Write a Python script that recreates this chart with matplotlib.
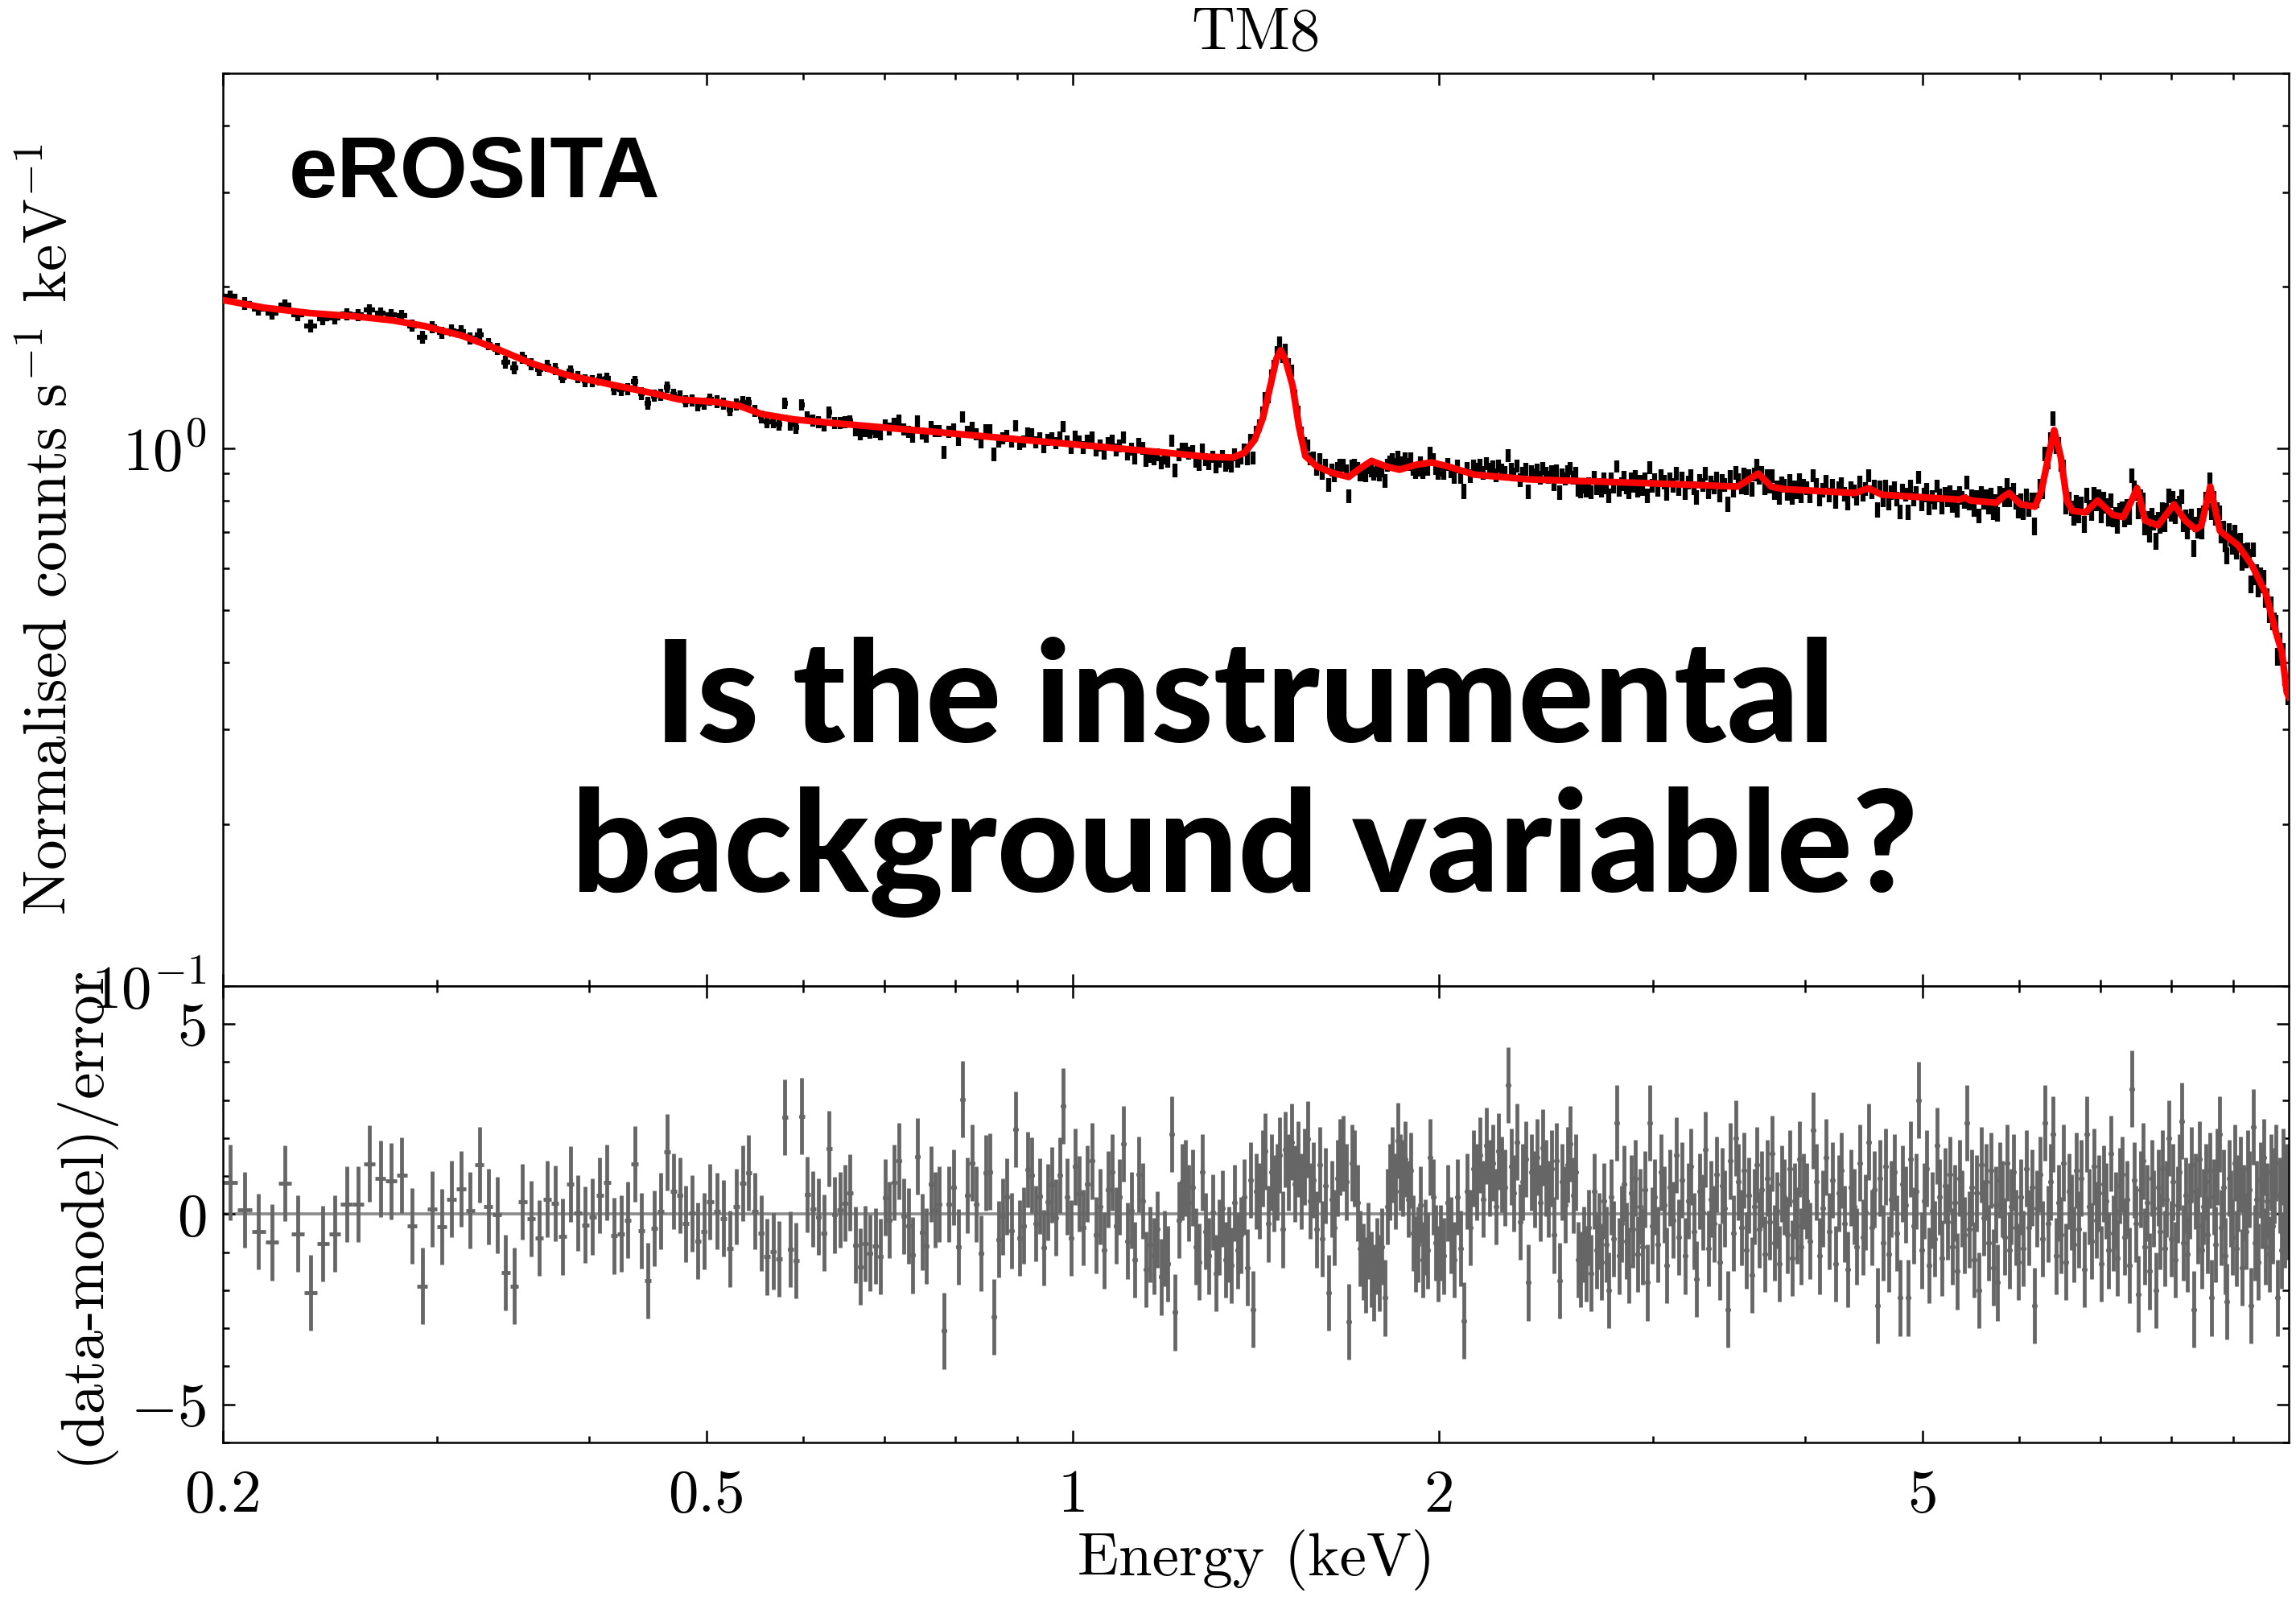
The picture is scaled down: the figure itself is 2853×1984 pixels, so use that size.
import numpy as np
import matplotlib
matplotlib.use("Agg")
import matplotlib.pyplot as plt
from matplotlib.ticker import FixedLocator, FixedFormatter, MultipleLocator, NullFormatter

plt.rcParams['font.family'] = 'serif'
plt.rcParams['font.serif'] = ['cmr10']
plt.rcParams['mathtext.fontset'] = 'cm'
plt.rcParams['axes.formatter.use_mathtext'] = True

# best-fit background model (energy in keV, normalised counts s^-1 keV^-1)
model_e = [0.2, 0.2021, 0.2158, 0.2358, 0.2571, 0.2758, 0.2932, 0.3145, 0.3342, 0.3584,
           0.3843, 0.416, 0.4538, 0.4743, 0.5087, 0.5318, 0.5548, 0.5906, 0.6443, 0.7026,
           0.7792, 1.194, 1.288, 1.354, 1.384, 1.411, 1.433, 1.455, 1.47, 1.482,
           1.495, 1.516, 1.534, 1.553, 1.587, 1.636, 1.686, 1.72, 1.76, 1.809,
           1.856, 1.914, 1.973, 2.034, 2.138, 2.368, 2.556, 3.0, 3.52, 3.662,
           3.752, 3.844, 4.396, 4.51, 4.628, 5.358, 5.415, 5.47, 5.746, 5.826,
           5.888, 6.016, 6.183, 6.259, 6.344, 6.412, 6.49, 6.57, 6.641, 6.803,
           6.961, 7.166, 7.309, 7.399, 7.502, 7.617, 7.805, 8.045, 8.219, 8.383,
           8.473, 8.617, 8.776, 8.91, 9.088, 9.328, 9.572, 9.764, 9.869, 9.96, 10.0]
model_v = [1.89, 1.883, 1.831, 1.788, 1.763, 1.733, 1.691, 1.623, 1.541, 1.443,
           1.37, 1.318, 1.265, 1.235, 1.222, 1.201, 1.16, 1.133, 1.113, 1.094,
           1.072, 0.983, 0.966, 0.963, 0.983, 1.039, 1.14, 1.323, 1.468, 1.525,
           1.468, 1.31, 1.102, 0.969, 0.927, 0.901, 0.886, 0.917, 0.949, 0.927,
           0.914, 0.933, 0.943, 0.927, 0.895, 0.877, 0.872, 0.862, 0.85, 0.899,
           0.85, 0.841, 0.827, 0.844, 0.821, 0.804, 0.811, 0.801, 0.793, 0.815,
           0.827, 0.788, 0.78, 0.835, 0.969, 1.083, 0.969, 0.799, 0.766, 0.761,
           0.801, 0.753, 0.746, 0.788, 0.844, 0.735, 0.72, 0.788, 0.735, 0.708,
           0.72, 0.85, 0.703, 0.684, 0.66, 0.606, 0.538, 0.453, 0.418, 0.352, 0.345]

# spectral grouping: energy ranges, number of bins, fractional error per range
group_edges = [0.2, 0.5, 0.78, 1.0, 1.5, 2.0, 3.0, 4.0, 6.0, 10.0]
group_bins = [54, 44, 31, 62, 55, 77, 56, 80, 125]
group_frac_err = [0.026, 0.026, 0.026, 0.027, 0.028, 0.029, 0.03, 0.03, 0.034]

# (data-model)/error for each bin
resid_a = [0.83, 0.11, -0.46, -0.74, 0.81, -0.51, -2.07, -0.77, -0.51, 0.26,
           0.26, 1.33, 0.93, 0.87, 1.02, -0.31, -1.89, 0.14, -0.33, 0.40,
           0.67, 0.10, 1.30, 0.20, -0.02, -1.54, -1.89, 0.33, -0.12, -0.63,
           0.40, 0.28, -0.59, 0.79, 0.03, -0.28, -0.07, 0.50, 0.83, -0.57,
           -0.51, -0.15, 1.32, -0.43, -1.75, -0.37, 0.08, 1.63, 0.60, 0.50,
           -0.25, 0.02, -0.70, -0.45]
resid_b = [0.33, 0.08, -0.11, -0.91, 0.20, 0.81, 1.09, 0.08, -0.50, -1.12,
           -0.98, -1.18, 2.55, -0.92, -1.22, 2.58, 0.52, 0.14, -0.07, -0.49,
           1.72, -0.02, 0.12, 0.29, 0.57, -0.81, -1.38, -0.77, -1.02, -0.84,
           -1.11, 0.44, -0.15, 0.83, 1.40, -0.05, -0.31, -1.08, 1.52, -0.47,
           -0.84, 0.79, 0.12, 0.26]
resid_c = [-3.07, 0.26, 0.71, -0.86, 3.02, 0.50, 1.35, 0.26, -1.03, 1.09,
           1.12, -2.70, -0.66, -0.06, 0.46, -0.43, 2.23, -0.63, -0.30, 1.17,
           1.03, -0.24, 0.47, -0.88, 0.32, 0.77, -0.09, 1.03, 2.84, 0.46,
           -0.63]
resid_d = [1.25, 0.54, -0.35, 0.80, 1.40, -0.55, 0.20, -0.95, 0.65, 1.10,
           -0.30, 0.45, 1.85, -0.70, 0.10, -1.20, 1.05, 0.35, -1.45, -0.80,
           -1.10, -0.40, -1.65, -0.90, -1.30, 2.10, -2.58, -0.15, 0.85, 0.95,
           0.30, 0.70, -0.85, -1.25, 1.10, -0.45, -1.10, 0.05, -1.55, -0.60,
           0.15, -1.20, -0.80, -1.35, 0.30, -0.95, -0.55, 0.45, -1.40, 0.90,
           -2.50, 0.60, 0.35, 1.20, 1.65, -0.25, 1.10, 0.55, 0.85, 1.55,
           -0.40, 1.70]
resid_e = [1.10, 1.90, 0.80, 1.45, 0.60, 1.25, 1.97, 0.35, 0.90, -0.40,
           1.30, -0.65, 0.75, -2.07, 0.40, -0.35, 0.95, 1.50, 1.60, 0.85,
           -2.83, 1.35, 1.20, 0.30, -0.90, -1.25, -1.60, -0.70, -1.45, -1.80,
           -1.10, -1.55, -0.85, -2.20, 0.20, 0.85, 1.30, 0.60, 1.94, 1.10,
           0.95, 1.45, 0.40, 1.15, -0.50, -1.05, -0.80, 0.25, -1.20, -0.60,
           -0.95, 1.50, 0.45, -0.75, -1.30]
resid_f = [-0.75, -1.10, 0.30, -0.55, -1.20, 0.45, -0.90, -2.80, 0.60, -0.35,
           1.20, 0.85, 1.55, 0.40, 1.80, 0.95, 1.35, 0.20, 1.65, 1.05,
           0.70, 3.40, 1.25, 0.55, 1.90, -0.20, 0.85, 1.45, -1.80, 1.10,
           0.65, 1.50, 0.30, 1.75, 0.95, 0.40, 1.20, -0.55, 1.40, -1.75,
           0.85, 0.25, 1.30, 1.85, 0.50, 1.10, -1.20, -1.45, -0.80, -1.30,
           -0.35, -1.55, 0.60, -0.95, -0.45, -1.25, 0.35, -0.80, -2.00, 0.45,
           -0.65, 2.40, -1.10, -0.25, 0.80, -0.70, -1.35, 0.55, -0.40, 0.95,
           -1.05, 0.20, -0.85, 0.65, -1.80, 2.40, -0.30]
resid_g = [0.45, -0.80, 1.10, 0.25, -1.35, 0.70, -0.15, 1.55, -0.60, 0.90,
           -1.10, 0.35, 1.25, -0.45, -1.70, 0.60, 0.05, 1.70, -0.90, 0.40,
           -0.25, 1.05, -1.25, 0.75, 0.15, -2.50, 1.40, -0.50, 2.00, 0.85,
           -0.35, 1.15, -0.95, 0.50, -1.60, 0.20, 1.30, -0.40, 0.65, -1.05,
           0.95, -0.20, 1.60, -0.75, 0.10, -1.30, 0.80, 0.45, -0.55, 1.20,
           -1.15, 0.35, -0.30, 1.45, -0.85, 0.60]
resid_h = [0.35, -0.70, 2.20, 0.85, -1.10, 0.15, 1.50, -0.45, 0.90, -1.30,
           0.55, 1.15, -0.25, -1.45, 0.70, 0.20, -0.85, 1.35, -0.60, 0.05,
           1.90, -0.35, 0.65, -2.40, 0.95, -0.75, 1.25, -1.05, 0.40, 1.10,
           -0.50, -2.20, 0.80, 0.25, -2.20, 1.45, -0.30, 0.60, 3.00, -0.95,
           0.35, 1.20, -1.35, 0.10, -0.65, 1.80, 0.45, -1.15, 0.75, -0.20,
           1.05, -0.85, 0.30, -1.50, 0.95, 0.15, -0.55, 2.40, -0.40, 0.70,
           -1.20, 0.55, -2.00, 1.30, -0.10, 0.85, -0.75, 1.15, -1.40, 0.25,
           -1.80, 0.90, 0.40, -0.60, 1.35, -0.95, 0.20, 1.10, -0.35, -1.25]
resid_i = [0.45, -0.90, 1.20, -0.35, 0.70, -2.40, 0.15, 1.05, -0.65, 2.40,
           -0.25, 0.85, 2.10, -1.10, 0.30, -0.55, 1.35, -1.25, 0.60, 0.05,
           -0.80, 1.15, -0.40, 0.95, -1.45, 2.10, 0.20, -0.70, 1.25, -0.15,
           0.55, -1.30, 0.80, 0.35, -0.95, 1.60, -0.50, 0.10, -1.15, 0.75,
           1.05, -0.60, 0.40, -1.35, 3.30, 0.90, -0.25, -2.10, 0.65, 1.40,
           -0.85, 0.30, -1.50, 0.95, 0.15, -2.00, 0.70, -0.45, 1.20, -0.90,
           0.40, 2.00, -0.65, 0.85, -1.20, 0.25, 1.10, 2.45, -0.75, 0.50,
           -1.05, 0.35, 1.30, -2.50, 0.60, -0.30, 1.45, -0.95, 0.20, 0.85,
           -0.55, 1.15, -2.20, 0.45, -0.80, 1.25, 2.10, -0.35, 0.70, -1.10,
           -2.30, 0.95, 0.15, -0.60, 1.35, -0.90, 0.55, 1.05, -1.40, 0.30,
           -0.45, 1.20, 0.65, -2.40, 2.30, -0.75, 0.40, -1.25, 0.90, 0.10,
           1.50, -0.85, 0.35, -1.05, 1.10, -0.30, 0.75, 1.35, -2.20, 0.50,
           -0.95, 1.25, -0.40, 0.85, -0.20]

resid = np.array(resid_a + resid_b + resid_c + resid_d + resid_e +
                 resid_f + resid_g + resid_h + resid_i)

# bin centres / half widths from the grouping
energy, half_w, frac = [], [], []
for lo, hi, n, fe in zip(group_edges[:-1], group_edges[1:], group_bins, group_frac_err):
    edges = np.linspace(lo, hi, n + 1)
    energy.extend(0.5 * (edges[:-1] + edges[1:]))
    half_w.extend(0.5 * np.diff(edges))
    frac.extend([fe] * n)
energy = np.array(energy)
half_w = np.array(half_w)
frac = np.array(frac)

model_at_bin = np.exp(np.interp(np.log(energy), np.log(model_e), np.log(model_v)))
err = model_at_bin * frac
counts = model_at_bin + resid * err

fig = plt.figure(figsize=(2853 / 300, 1984 / 300), dpi=300)
ax1 = fig.add_axes([0.0971, 0.3826, 0.8998, 0.5716])
ax2 = fig.add_axes([0.0971, 0.0968, 0.8998, 0.2858], sharex=ax1)

ax1.errorbar(energy, counts, xerr=half_w, yerr=err, fmt='none', ecolor='black',
             elinewidth=1.5, capsize=0, zorder=2)
ax1.plot(model_e, model_v, color='red', lw=2.0, zorder=3)
ax1.set_xscale('log')
ax1.set_yscale('log')
ax1.set_xlim(0.2, 10)
ax1.set_ylim(0.1, 5)
ax1.set_ylabel(r'Normalised counts s$^{-1}$ keV$^{-1}$', fontsize=18)
ax1.yaxis.set_label_coords(-0.070, 0.5)
ax1.set_title('TM8', fontsize=18, pad=7)
ax1.yaxis.set_minor_formatter(NullFormatter())

ax1.text(0.032, 0.864, 'eROSITA', transform=ax1.transAxes, fontsize=26,
         fontweight='bold', family='Liberation Sans', va='baseline', ha='left')
fig.text(0.542, 0.5353, 'Is the instrumental', fontsize=42, fontweight='black',
         family='Lato', ha='center', va='baseline')
fig.text(0.542, 0.4415, 'background variable?', fontsize=42, fontweight='black',
         family='Lato', ha='center', va='baseline')

ax2.axhline(0, color='#8c8c8c', lw=0.9, zorder=1)
ax2.errorbar(energy, resid, xerr=half_w, yerr=np.ones_like(resid), fmt='o',
             color='#666666', ms=0.7, elinewidth=1.15, capsize=0, zorder=2)
ax2.set_ylim(-6, 6)
ax2.yaxis.set_major_locator(MultipleLocator(5))
ax2.yaxis.set_minor_locator(MultipleLocator(1))
ax2.set_xlabel('Energy (keV)', fontsize=18)
ax2.xaxis.set_label_coords(0.5, -0.19)
ax2.set_ylabel('(data-model)/error', fontsize=18)
ax2.yaxis.set_label_coords(-0.053, 0.5)

ax2.xaxis.set_major_locator(FixedLocator([0.2, 0.5, 1, 2, 5]))
ax2.xaxis.set_major_formatter(FixedFormatter(['0.2', '0.5', '1', '2', '5']))
ax2.xaxis.set_minor_locator(FixedLocator([0.3, 0.4, 0.6, 0.7, 0.8, 0.9, 3, 4, 6, 7, 8, 9]))
ax2.xaxis.set_minor_formatter(NullFormatter())

for ax in (ax1, ax2):
    ax.tick_params(which='both', direction='in', top=True, right=True, labelsize=18)
    ax.tick_params(which='major', length=3.6, width=0.6)
    ax.tick_params(which='minor', length=1.9, width=0.6)
    ax.tick_params(axis='y', pad=5)
    ax.tick_params(axis='x', pad=8)
    for s in ax.spines.values():
        s.set_linewidth(0.6)
ax1.tick_params(labelbottom=False)

fig.savefig('out.png', dpi=300)
